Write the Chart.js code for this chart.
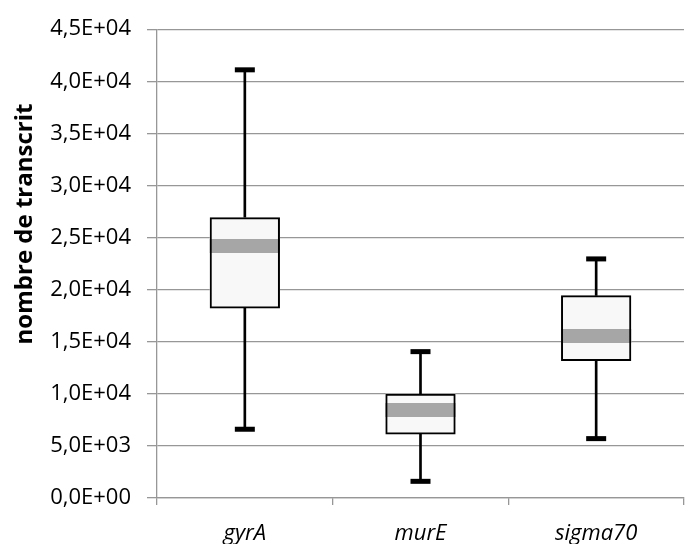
<!DOCTYPE html>
<html lang="fr">
<head>
  <meta charset="UTF-8">
  <title>nombre de transcrit</title>
  <script src="https://cdn.jsdelivr.net/npm/chart.js"></script>
  <style>
    html, body { margin: 0; padding: 0; background: #fff; overflow: hidden; }
    .wrap { position: relative; width: 687px; height: 544px; }
  </style>
</head>
<body>
<div class="wrap"><canvas id="boxChart"></canvas></div>

<script>
// data
const genes   = ['gyrA', 'murE', 'sigma70'];
const minVals = [6600, 1600, 5700];
const q1Vals  = [18200, 6100, 13150];
const medians = [24200, 8450, 15550];
const q3Vals  = [26950, 10000, 19450];
const maxVals = [41100, 14050, 22950];
const yTicks  = [0, 5000, 10000, 15000, 20000, 25000, 30000, 35000, 40000, 45000];

const gridGrey = '#979797';

// 4,5E+04 style
function sci(v) {
  if (v === 0) return '0,0E+00';
  const e = Math.floor(Math.log10(Math.abs(v)));
  const m = (v / Math.pow(10, e)).toFixed(1).replace('.', ',');
  return m + 'E' + (e < 0 ? '-' : '+') + String(Math.abs(e)).padStart(2, '0');
}

// median band on top of the box fill, caps on top of everything
const boxParts = {
  id: 'boxParts',
  afterDatasetDraw(chart, args) {
    if (args.index !== 0) return;
    const c = chart.ctx, y = chart.scales.y;
    c.save();
    c.strokeStyle = '#a6a6a6';
    c.lineWidth = 14;
    args.meta.data.forEach((bar, i) => {
      const py = y.getPixelForValue(medians[i]);
      c.beginPath();
      c.moveTo(bar.x - bar.width / 2, py);
      c.lineTo(bar.x + bar.width / 2, py);
      c.stroke();
    });
    c.restore();
  },
  afterDatasetsDraw(chart) {
    const c = chart.ctx, x = chart.scales.x, y = chart.scales.y;
    c.save();
    c.strokeStyle = '#000';
    c.lineWidth = 5;
    genes.forEach((g, i) => {
      const px = x.getPixelForValue(i);
      [minVals[i], maxVals[i]].forEach(v => {
        const py = y.getPixelForValue(v);
        c.beginPath();
        c.moveTo(px - 10, py);
        c.lineTo(px + 10, py);
        c.stroke();
      });
    });
    c.restore();
  }
};

const yTitle = {
  id: 'yTitle',
  afterDraw(chart) {
    const c = chart.ctx;
    c.save();
    c.translate(25, 224);
    c.rotate(-Math.PI / 2);
    c.font = 'bold 24px "Open Sans"';
    c.fillStyle = '#000';
    c.textAlign = 'center';
    c.textBaseline = 'middle';
    c.fillText('nombre de transcrit', 0, 0);
    c.restore();
  }
};

new Chart(document.getElementById('boxChart'), {
  type: 'bar',
  data: {
    labels: genes,
    datasets: [
      { // box fill
        data: q1Vals.map((v, i) => [v, q3Vals[i]]), backgroundColor: '#f8f8f8',
        borderWidth: 0, barPercentage: 0.4, categoryPercentage: 1, grouped: false, order: 3
      },
      { // box outline
        data: q1Vals.map((v, i) => [v, q3Vals[i]]), backgroundColor: 'rgba(0,0,0,0)',
        borderColor: '#000', borderWidth: 2, borderSkipped: false,
        barPercentage: 0.4, categoryPercentage: 1, grouped: false, order: 2
      },
      { // whiskers
        data: q3Vals.map((v, i) => [v, maxVals[i]]), backgroundColor: '#000',
        barThickness: 2, grouped: false, order: 1
      },
      {
        data: minVals.map((v, i) => [v, q1Vals[i]]), backgroundColor: '#000',
        barThickness: 2, grouped: false, order: 1
      }
    ]
  },
  options: {
    responsive: true,
    maintainAspectRatio: false,
    animation: false,
    events: [],
    layout: { padding: { top: 27, right: 3, left: 0, bottom: 0 } },
    plugins: { legend: { display: false }, tooltip: { enabled: false } },
    scales: {
      x: {
        offset: true,
        border: { color: gridGrey, width: 1.3 },
        grid: {
          offset: true, drawOnChartArea: false, drawTicks: true, tickLength: 7, lineWidth: 1.3,
          color: ctx => ctx.index === genes.length ? 'rgba(0,0,0,0)' : gridGrey
        },
        ticks: {
          color: '#000', padding: 16,
          font: { family: 'Open Sans', size: 22, style: 'italic' }
        },
        afterFit(scale) { scale.height = 46; }
      },
      y: {
        min: 0, max: 45000,
        afterBuildTicks(scale) { scale.ticks = yTicks.map(v => ({ value: v })); },
        border: { color: gridGrey, width: 1.3 },
        grid: { color: gridGrey, lineWidth: 1.3, tickLength: 10 },
        ticks: {
          color: '#000', padding: 16,
          font: { family: 'Open Sans', size: 22 },
          callback: v => sci(v)
        },
        afterFit(scale) { scale.width = 157; }
      }
    }
  },
  plugins: [boxParts, yTitle]
});
</script>
</body>
</html>
